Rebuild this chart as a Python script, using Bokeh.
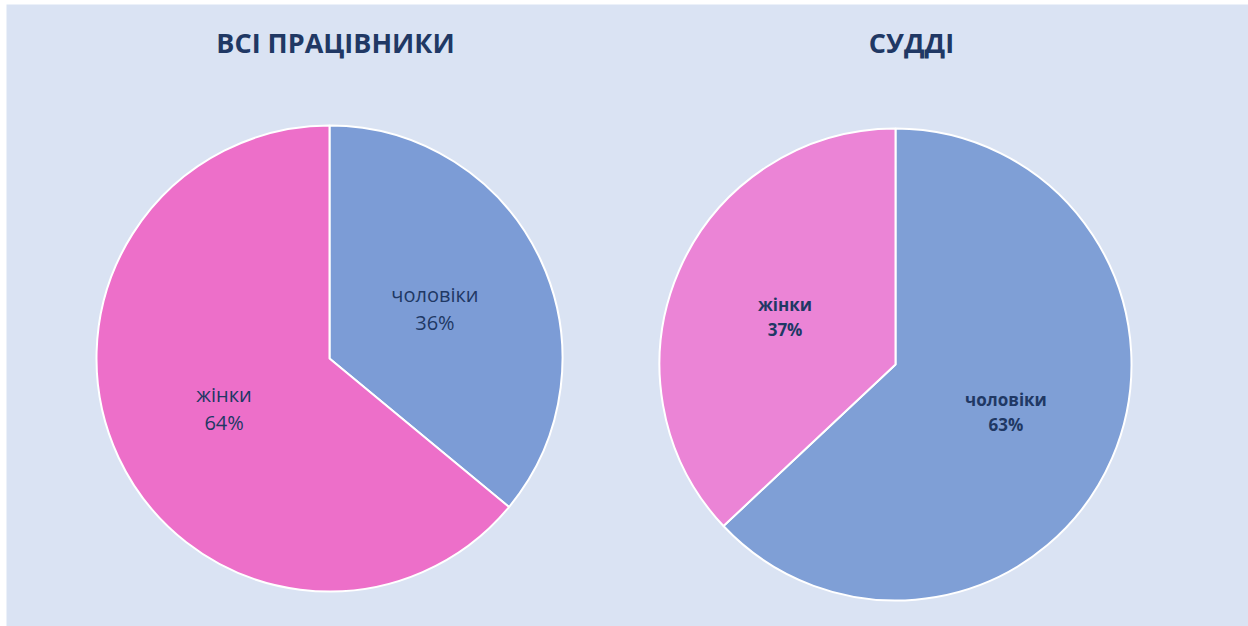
import numpy as np
from bokeh.plotting import figure
from bokeh.models import Range1d, ColumnDataSource
from bokeh.core.properties import value
from bokeh.embed import file_html
from bokeh.resources import INLINE

# ---- data ----
titles = ["ВСІ ПРАЦІВНИКИ", "СУДДІ"]
categories_all = ["чоловіки", "жінки"]
values_all = [36, 64]
categories_judges = ["чоловіки", "жінки"]
values_judges = [63, 37]
colors_all = ["#7c9cd6", "#ed6fc9"]
colors_judges = ["#7f9fd6", "#eb84d6"]

W, H = 1248, 626
ML, MT = 6, 4
FW, FH = W - ML, H - MT

p = figure(width=W, height=H, output_backend="svg", toolbar_location=None,
           x_range=Range1d(0, FW), y_range=Range1d(0, FH),
           min_border_left=ML, min_border_top=MT, min_border_right=0, min_border_bottom=0)
p.border_fill_color = "white"
p.background_fill_color = "#dae3f3"
p.outline_line_color = None
p.axis.visible = False
p.grid.visible = False

TXT = "#203864"
FONT = "Open Sans"

pies = [
    dict(cx=329 - ML, cy=FH - (358 - MT), r=233, cats=categories_all, vals=values_all,
         cols=colors_all, title=titles[0], tx=335 - ML, bold=False, lab_size="20px",
         lab_r=0.5, off=14),
    dict(cx=895 - ML, cy=FH - (364 - MT), r=236, cats=categories_judges, vals=values_judges,
         cols=colors_judges, title=titles[1], tx=911 - ML, bold=True, lab_size="17px",
         lab_r=0.51, off=12.5),
]

for pie in pies:
    vals = np.array(pie["vals"], dtype=float)
    frac = vals / vals.sum()
    cum = np.concatenate([[0], np.cumsum(frac)])
    start = np.pi / 2 - cum[:-1] * 2 * np.pi
    end = np.pi / 2 - cum[1:] * 2 * np.pi
    mid = (start + end) / 2
    src = ColumnDataSource(dict(
        x=[pie["cx"]] * len(vals), y=[pie["cy"]] * len(vals),
        start=start, end=end, color=pie["cols"],
        lx=pie["cx"] + pie["lab_r"] * pie["r"] * np.cos(mid),
        ly=pie["cy"] + pie["lab_r"] * pie["r"] * np.sin(mid),
        name=pie["cats"], pct=[f"{int(v)}%" for v in vals],
    ))
    p.wedge(x="x", y="y", radius=pie["r"], start_angle="start", end_angle="end",
            direction="clock", fill_color="color", line_color="white", line_width=2,
            source=src)
    style = "bold" if pie["bold"] else "normal"
    p.text(x="lx", y="ly", text="name", source=src, y_offset=-pie["off"],
           text_align="center", text_baseline="middle", text_color=TXT,
           text_font=value(FONT), text_font_size=pie["lab_size"], text_font_style=style)
    p.text(x="lx", y="ly", text="pct", source=src, y_offset=pie["off"],
           text_align="center", text_baseline="middle", text_color=TXT,
           text_font=value(FONT), text_font_size=pie["lab_size"], text_font_style=style)
    p.text(x=[pie["tx"]], y=[FH - (42 - MT)], text=[pie["title"]],
           text_align="center", text_baseline="middle", text_color=TXT,
           text_font=value(FONT), text_font_size="27px", text_font_style="bold")

open("out.html", "w").write(file_html(p, INLINE))
